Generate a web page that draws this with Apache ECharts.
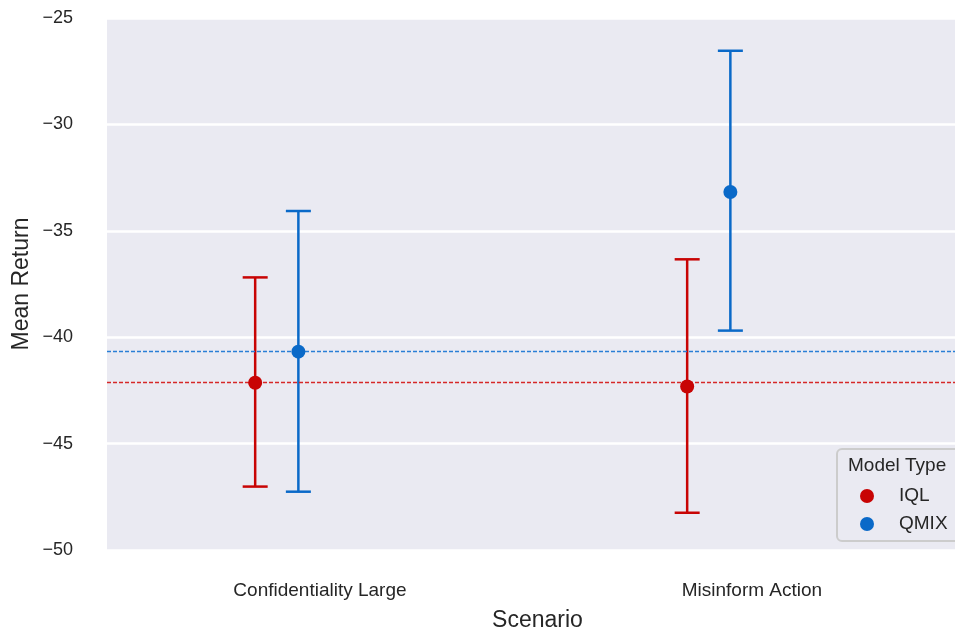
<!DOCTYPE html>
<html>
<head>
<meta charset="utf-8">
<script src="https://cdn.jsdelivr.net/npm/echarts@6/dist/echarts.min.js"></script>
<style>
  html, body { margin: 0; padding: 0; background: #fff; }
  #chart { width: 955px; height: 631px; }
</style>
</head>
<body>
<div id="chart"></div>
<script>
// Scenario categories on the x axis
const categories = ['Confidentiality Large', 'Misinform Action'];

// Mean return per scenario with lower / upper error bar bounds
const iqlMean = [-42.14, -42.32];
const iqlLow = [-47.02, -48.25];
const iqlHigh = [-37.19, -36.34];

const qmixMean = [-40.68, -33.18];
const qmixLow = [-47.26, -39.69];
const qmixHigh = [-34.07, -26.54];

// Reference levels drawn as dashed horizontal lines
const iqlRef = -42.14;
const qmixRef = -40.68;

const yTicks = [-50, -45, -40, -35, -30, -25];

const RED = '#C80404';
const BLUE = '#0A69C8';
const FONT = '"Liberation Sans", Arial, sans-serif';
const TEXT = '#262626';

// horizontal dodge of each hue around its category position
const dodge = { IQL: -0.15, QMIX: -0.05 };

function points(means, off) {
  return means.map((m, i) => [i + off, m]);
}
function bars(lows, highs, off) {
  return lows.map((l, i) => [i + off, l, highs[i]]);
}

function errorBar(color) {
  return function (params, api) {
    const x = api.value(0);
    const lo = api.coord([x, api.value(1)]);
    const hi = api.coord([x, api.value(2)]);
    const cap = 12.5;
    const style = { stroke: color, lineWidth: 2.5 };
    return {
      type: 'group',
      children: [
        { type: 'line', shape: { x1: lo[0], y1: lo[1], x2: hi[0], y2: hi[1] }, style },
        { type: 'line', shape: { x1: lo[0] - cap, y1: lo[1], x2: lo[0] + cap, y2: lo[1] }, style },
        { type: 'line', shape: { x1: hi[0] - cap, y1: hi[1], x2: hi[0] + cap, y2: hi[1] }, style }
      ]
    };
  };
}

const chart = echarts.init(document.getElementById('chart'), null, { renderer: 'canvas' });

chart.setOption({
  animation: false,
  backgroundColor: '#ffffff',
  textStyle: { fontFamily: FONT },
  title: {
    text: 'Model Type',
    left: 848,
    top: 456,
    z: 20,
    padding: 0,
    textStyle: { fontFamily: FONT, fontSize: 19, fontWeight: 'normal', color: TEXT }
  },
  // vertical y-axis title
  graphic: [
    {
      type: 'text',
      x: 22,
      y: 284,
      rotation: Math.PI / 2,
      style: {
        text: 'Mean Return',
        fontFamily: FONT,
        fontSize: 23,
        fill: TEXT,
        align: 'center',
        verticalAlign: 'middle'
      }
    }
  ],
  legend: {
    data: [
      { name: 'IQL', icon: 'circle' },
      { name: 'QMIX', icon: 'circle' }
    ],
    orient: 'vertical',
    left: 837,
    top: 449,
    padding: [37, 40, 7, 23],
    itemWidth: 14,
    itemHeight: 14,
    itemGap: 8,
    backgroundColor: '#EAEAF2',
    borderColor: '#CCCCCC',
    borderWidth: 2,
    borderRadius: 5,
    z: 10,
    textStyle: { fontFamily: FONT, fontSize: 19, color: TEXT, padding: [0, 0, 0, 20], lineHeight: 20 }
  },
  grid: {
    left: 107,
    right: 0,
    top: 18,
    bottom: 81,
    containLabel: false,
    outerBoundsMode: 'none',
    show: true,
    backgroundColor: '#EAEAF2',
    borderWidth: 0
  },
  xAxis: {
    type: 'value',
    min: -0.493,
    max: 1.47,
    name: 'Scenario',
    nameLocation: 'middle',
    nameGap: 59,
    nameTextStyle: { fontFamily: FONT, fontSize: 23, color: TEXT, padding: [0, 0, 0, 13] },
    axisLine: { show: false },
    axisTick: { show: false, customValues: [0, 1] },
    splitLine: { show: false },
    axisLabel: {
      customValues: [0, 1],
      formatter: v => categories[Math.round(v)],
      margin: 31,
      fontFamily: FONT,
      fontSize: 19,
      color: TEXT
    }
  },
  yAxis: {
    type: 'value',
    min: -50,
    max: -25,
    interval: 5,
    axisLine: { show: false },
    axisTick: { show: false },
    splitLine: { show: true, lineStyle: { color: '#FFFFFF', width: 2.5 } },
    axisLabel: {
      margin: 34,
      fontFamily: FONT,
      fontSize: 18,
      color: TEXT,
      formatter: v => (yTicks.includes(v) ? String(v).replace('-', '\u2212') : '')
    }
  },
  series: [
    {
      name: 'IQL',
      type: 'scatter',
      symbol: 'circle',
      symbolSize: 14,
      itemStyle: { color: RED, opacity: 1 },
      z: 5,
      data: points(iqlMean, dodge.IQL),
      markLine: {
        silent: true,
        symbol: 'none',
        label: { show: false },
        lineStyle: { color: '#D62828', type: [4, 2], width: 1.3 },
        data: [{ yAxis: iqlRef }]
      }
    },
    {
      name: 'QMIX',
      type: 'scatter',
      symbol: 'circle',
      symbolSize: 14,
      itemStyle: { color: BLUE, opacity: 1 },
      z: 5,
      data: points(qmixMean, dodge.QMIX),
      markLine: {
        silent: true,
        symbol: 'none',
        label: { show: false },
        lineStyle: { color: '#2A7FD6', type: [4, 2], width: 1.3 },
        data: [{ yAxis: qmixRef }]
      }
    },
    {
      name: 'IQL range',
      type: 'custom',
      renderItem: errorBar(RED),
      encode: { x: 0, y: [1, 2] },
      z: 3,
      data: bars(iqlLow, iqlHigh, dodge.IQL)
    },
    {
      name: 'QMIX range',
      type: 'custom',
      renderItem: errorBar(BLUE),
      encode: { x: 0, y: [1, 2] },
      z: 3,
      data: bars(qmixLow, qmixHigh, dodge.QMIX)
    }
  ]
});
</script>
</body>
</html>
